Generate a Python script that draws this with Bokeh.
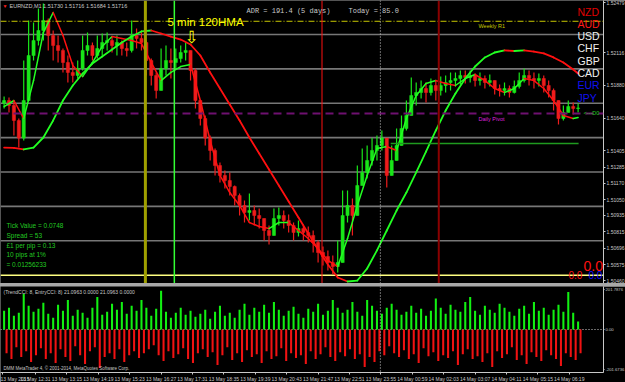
from bokeh.plotting import figure
from bokeh.models import Range1d, FixedTicker, PrintfTickFormatter, Label, Span
from bokeh.layouts import column
from bokeh.embed import file_html
from bokeh.resources import INLINE

# ---------------- data (EURNZD M1, resampled to 10-minute bars) ----------------
open0 = 1.51750
close = [
1.51770, 1.51734, 1.51625, 1.51497, 1.51770, 1.52097, 1.52206, 1.52279, 1.52352, 1.52243,
1.52170, 1.52134, 1.52046, 1.51974, 1.51952, 1.52003, 1.52134, 1.52170, 1.52097, 1.52148,
1.52192, 1.52206, 1.52170, 1.52192, 1.52148, 1.52134, 1.52243, 1.52221, 1.52192, 1.52061,
1.51952, 1.51843, 1.52003, 1.52061, 1.52046, 1.52075, 1.52119, 1.52134, 1.51988, 1.51770,
1.51639, 1.51497, 1.51407, 1.51297, 1.51225, 1.51188, 1.51145, 1.51079, 1.51007, 1.50956,
1.50970, 1.50934, 1.50912, 1.50825, 1.50789, 1.50912, 1.50934, 1.50898, 1.50861, 1.50810,
1.50839, 1.50810, 1.50789, 1.50738, 1.50665, 1.50636, 1.50592, 1.50563, 1.50592, 1.50934,
1.51007, 1.50934, 1.51152, 1.51247, 1.51334, 1.51407, 1.51443, 1.51497, 1.51225, 1.51334,
1.51443, 1.51566, 1.51661, 1.51806, 1.51828, 1.51857, 1.51828, 1.51879, 1.51843, 1.51879,
1.51901, 1.51915, 1.51930, 1.51952, 1.51937, 1.51952, 1.51915, 1.51930, 1.51901, 1.51915,
1.51857, 1.51843, 1.51857, 1.51828, 1.51872, 1.51915, 1.51952, 1.51930, 1.51915, 1.51930,
1.51879, 1.51843, 1.51770, 1.51639, 1.51683, 1.51726, 1.51712, 1.51716]
high = [
1.51799, 1.51792, 1.51770, 1.51639, 1.52061, 1.52352, 1.52337, 1.52439, 1.52475, 1.52366,
1.52279, 1.52243, 1.52148, 1.52097, 1.52046, 1.52061, 1.52243, 1.52264, 1.52192, 1.52243,
1.52257, 1.52264, 1.52235, 1.52243, 1.52206, 1.52192, 1.52352, 1.52293, 1.52279, 1.52206,
1.52075, 1.51974, 1.52148, 1.52170, 1.52148, 1.52148, 1.52170, 1.52192, 1.52134, 1.52003,
1.51770, 1.51661, 1.51515, 1.51421, 1.51319, 1.51261, 1.51247, 1.51152, 1.51094, 1.51043,
1.51094, 1.51007, 1.50985, 1.50898, 1.50861, 1.50985, 1.50992, 1.50970, 1.50941, 1.50883,
1.50898, 1.50869, 1.50854, 1.50825, 1.50752, 1.50709, 1.50680, 1.50644, 1.50752, 1.51116,
1.51116, 1.51058, 1.51297, 1.51421, 1.51443, 1.51497, 1.51515, 1.51552, 1.51479, 1.51443,
1.51566, 1.51661, 1.51770, 1.51937, 1.51901, 1.51915, 1.51901, 1.51930, 1.51915, 1.51944,
1.51952, 1.51974, 1.51974, 1.51988, 1.51988, 1.51988, 1.51966, 1.51974, 1.51952, 1.51959,
1.51915, 1.51886, 1.51901, 1.51879, 1.51915, 1.51974, 1.52003, 1.51988, 1.51974, 1.51966,
1.51952, 1.51915, 1.51857, 1.51770, 1.51734, 1.51770, 1.51756, 1.51748]
low = [
1.51712, 1.51683, 1.51515, 1.51428, 1.51479, 1.51952, 1.52061, 1.52170, 1.52206, 1.52134,
1.52061, 1.52046, 1.51974, 1.51901, 1.51901, 1.51930, 1.51988, 1.52097, 1.52061, 1.52075,
1.52097, 1.52134, 1.52119, 1.52097, 1.52097, 1.52090, 1.52119, 1.52148, 1.52134, 1.51952,
1.51879, 1.51785, 1.51915, 1.51952, 1.51930, 1.52003, 1.52046, 1.52061, 1.51915, 1.51712,
1.51588, 1.51443, 1.51334, 1.51225, 1.51174, 1.51130, 1.51079, 1.51007, 1.50934, 1.50883,
1.50898, 1.50861, 1.50839, 1.50752, 1.50723, 1.50839, 1.50861, 1.50839, 1.50810, 1.50752,
1.50781, 1.50752, 1.50738, 1.50665, 1.50592, 1.50570, 1.50534, 1.50505, 1.50520, 1.50680,
1.50883, 1.50789, 1.51043, 1.51152, 1.51203, 1.51297, 1.51334, 1.51407, 1.51138, 1.51225,
1.51334, 1.51479, 1.51552, 1.51697, 1.51734, 1.51785, 1.51756, 1.51806, 1.51770, 1.51806,
1.51828, 1.51843, 1.51872, 1.51886, 1.51894, 1.51901, 1.51872, 1.51879, 1.51857, 1.51872,
1.51814, 1.51799, 1.51806, 1.51792, 1.51821, 1.51857, 1.51901, 1.51879, 1.51857, 1.51872,
1.51828, 1.51792, 1.51697, 1.51596, 1.51625, 1.51683, 1.51668, 1.51683]

# fast HMA and 5 min 120HMA, sampled every 20 minutes (+ last bar)
hma_fast = [
1.51726, 1.51770, 1.51639, 1.51915, 1.52264, 1.52410, 1.52243, 1.52024, 1.51944, 1.52046,
1.52163, 1.52235, 1.52221, 1.52206, 1.52184, 1.52046, 1.51915, 1.51974, 1.52017, 1.52032,
1.51770, 1.51479, 1.51225, 1.51101, 1.51007, 1.50883, 1.50854, 1.50839, 1.50883, 1.50883,
1.50825, 1.50767, 1.50694, 1.50607, 1.50563, 1.50767, 1.51007, 1.51225, 1.51421, 1.51436,
1.51407, 1.51639, 1.51806, 1.51894, 1.51915, 1.51894, 1.51879, 1.51930, 1.51959, 1.51915,
1.51857, 1.51828, 1.51857, 1.51930, 1.51915, 1.51857, 1.51770, 1.51661, 1.51639, 1.51646]
hma_slow = [
1.51428, 1.51425, 1.51414, 1.51428, 1.51501, 1.51625, 1.51770, 1.51879, 1.51966, 1.52039,
1.52090, 1.52141, 1.52192, 1.52235, 1.52272, 1.52279, 1.52257, 1.52235, 1.52213, 1.52177,
1.52097, 1.51974, 1.51857, 1.51741, 1.51625, 1.51501, 1.51385, 1.51268, 1.51152, 1.51036,
1.50919, 1.50803, 1.50687, 1.50578, 1.50483, 1.50454, 1.50461, 1.50549, 1.50680, 1.50825,
1.50970, 1.51101, 1.51247, 1.51399, 1.51552, 1.51697, 1.51821, 1.51930, 1.52017, 1.52083,
1.52119, 1.52134, 1.52130, 1.52134, 1.52126, 1.52112, 1.52083, 1.52046, 1.51995, 1.51966]

# CCI histogram (EntryCCI), positive and negative parts per 10-minute slot
cci_pos = [95, 110, 70, 85, 180, 120, 90, 105, 135, 80,
           60, 125, 95, 150, 70, 100, 85, 60, 110, 165,
           75, 90, 130, 100, 140, 80, 120, 95, 150, 110,
           70, 105, 197, 90, 60, 85, 110, 75, 95, 65,
           80, 100, 55, 90, 120, 70, 85, 60, 100, 130,
           75, 110, 90, 125, 85, 140, 100, 70, 95, 115,
           80, 60, 105, 90, 130, 75, 95, 150, 110, 85,
           100, 140, 90, 70, 150, 120, 95, 80, 110, 130,
           100, 75, 90, 120, 85, 105, 70, 95, 157, 110,
           80, 125, 100, 90, 140, 165, 95, 75, 120, 100,
           85, 130, 110, 90, 70, 105, 120, 80, 140, 95,
           110, 75, 100, 125, 90, 190, 85, 40]
cci_neg = [-120, -150, -90, -140, -110, -165, -130, -95, -150, -120,
           -170, -100, -140, -160, -85, -130, -175, -110, -90, -195,
           -140, -120, -150, -100, -165, -130, -110, -145, -120, -100,
           -80, -130, -160, -110, -145, -125, -95, -150, -170, -120,
           -100, -140, -115, -180, -130, -90, -155, -120, -165, -105,
           -140, -125, -170, -110, -150, -135, -95, -160, -120, -145,
           -130, -175, -110, -150, -125, -90, -140, -160, -115, -135,
           -100, -150, -125, -190, -140, -165, -110, -130, -85, -120,
           -140, -105, -150, -125, -170, -95, -135, -115, -160, -130,
           -145, -110, -180, -125, -100, -150, -135, -165, -120, -190,
           -110, -145, -125, -90, -155, -130, -175, -115, -140, -160,
           -105, -130, -150, -185, -120, -140, -155, -120]

# price levels / objects
round_levels = [1.5225, 1.5200, 1.5175, 1.5150, 1.5125, 1.5100, 1.5075]
yellow_level = 1.5050
weekly_r1 = 1.52346
daily_pivot = 1.51675
green_level = 1.51457
green_level_span = [788, 1171]           # minutes
vlines = {"olive": 288, "lime": 347, "red": 648, "darkred": 886}   # minutes
day_sep = 767                            # minutes

price_ticks = [1.52479, 1.52116, 1.51880, 1.51640, 1.51405, 1.51285, 1.51170,
               1.51050, 1.50935, 1.50815, 1.50696, 1.50575, 1.50460]
cci_ticks = [201.7876, 0.0, -201.6736]
cci_tick_labels = ["201.7876", "0.00", "-201.6736"]
tick_minutes = [-3, 64, 128, 192, 256, 320, 384, 448, 512, 576, 640, 704, 768,
                832, 896, 960, 1024, 1088, 1152]
tick_labels = ["13 May 2015", "13 May 12:31", "13 May 13:15", "13 May 14:19",
               "13 May 15:23", "13 May 16:27", "13 May 17:31", "13 May 18:35",
               "13 May 19:39", "13 May 20:43", "13 May 21:47", "13 May 22:51",
               "13 May 23:55", "14 May 00:59", "14 May 02:03", "14 May 03:07",
               "14 May 04:11", "14 May 05:15", "14 May 06:19"]
currencies = ["NZD", "AUD", "USD", "CHF", "GBP", "CAD", "EUR", "JPY"]
currency_colors = ["#e00000", "#ff1a1a", "#f0f0f0", "#f0f0f0", "#f0f0f0", "#f0f0f0",
                   "#1010f0", "#1010f0"]

# ---------------- geometry helpers (pixel -> data for annotations) ----------------
FRAME_W, FRAME_H = 603, 283
PX0, PX_PER_MIN = 3.6, 0.4906
P_TOP = 1.52497
P_PER_PX = 0.0000727
CCI_TOP, CCI_BOT = 218.0, -218.0
IND_H = 86
AX_FONT = "5px"


def tx(px):
    return (px - PX0) / PX_PER_MIN


def py(y):
    return P_TOP - y * P_PER_PX


def cy(y):  # y pixel in window -> CCI value
    return CCI_TOP - (y - (FRAME_H + 3)) * (CCI_TOP - CCI_BOT) / IND_H


UP, DN = "#19e619", "#ee1c1c"
GRAY_TXT = "#c8c8c8"

xr = Range1d(tx(0), tx(FRAME_W))


def style_axis(a, tick_out=2, font=AX_FONT):
    a.major_label_text_font_size = font
    a.major_label_text_color = GRAY_TXT
    a.major_label_text_font = "Liberation Sans"
    a.axis_line_color = GRAY_TXT
    a.major_tick_line_color = GRAY_TXT
    a.major_tick_out = tick_out
    a.major_tick_in = 0
    a.minor_tick_line_color = None
    a.major_label_standoff = 1


# ---------------- main price panel ----------------
p1 = figure(frame_width=FRAME_W, frame_height=FRAME_H, x_range=xr,
            y_range=Range1d(py(FRAME_H), P_TOP), output_backend="svg",
            toolbar_location=None, x_axis_location=None, y_axis_location="right",
            background_fill_color="black", border_fill_color="black",
            min_border_left=0, min_border_right=0, min_border_top=0, min_border_bottom=0,
            outline_line_color=None)
p1.grid.visible = False
ax = p1.yaxis[0]
ax.ticker = FixedTicker(ticks=price_ticks)
ax.formatter = PrintfTickFormatter(format="%.5f")
style_axis(ax)

for lv in round_levels:
    p1.add_layout(Span(location=lv, dimension="width", line_color="#777777",
                       line_width=1.6, level="underlay"))
p1.add_layout(Span(location=yellow_level, dimension="width", line_color="#ffff80",
                   line_width=1.5, level="underlay"))

# candles
bar_t = [10 * i for i in range(len(close))]
opens = [open0] + close[:-1]
hi = [max(h, o, c) for h, o, c in zip(high, opens, close)]
lo = [min(l, o, c) for l, o, c in zip(low, opens, close)]
cols = [UP if c >= o else DN for o, c in zip(opens, close)]
p1.segment(x0=bar_t, x1=bar_t, y0=lo, y1=hi, line_color=cols, line_width=1.2)
p1.vbar(x=bar_t, width=6.5, top=[max(o, c) for o, c in zip(opens, close)],
        bottom=[min(o, c) for o, c in zip(opens, close)], fill_color=cols, line_color=cols,
        line_width=0.5)

# HMA lines colored by slope
line_t = list(range(0, 1161, 20)) + [1170]


def colored_line(p, ts, vals, width):
    c = ["#22ff22" if b >= a else "#ff1010" for a, b in zip(vals[:-1], vals[1:])]
    p.segment(x0=ts[:-1], y0=vals[:-1], x1=ts[1:], y1=vals[1:], line_color=c,
              line_width=width, line_cap="round")


colored_line(p1, line_t, hma_fast, 1.5)
colored_line(p1, line_t, hma_slow, 1.8)

# horizontal objects
p1.add_layout(Span(location=weekly_r1, dimension="width", line_color="#c8c800",
                   line_width=1, line_dash="6 2 1 2"))
p1.add_layout(Span(location=daily_pivot, dimension="width", line_color="#6e1070",
                   line_width=2, line_dash="8 5"))
p1.segment(x0=[green_level_span[0]], x1=[green_level_span[1]], y0=[green_level],
           y1=[green_level], line_color="#1f9a1f", line_width=1.5)

# vertical lines
p1.add_layout(Span(location=vlines["olive"], dimension="height", line_color="#a0a000", line_width=3))
p1.add_layout(Span(location=vlines["lime"], dimension="height", line_color="#33ff33", line_width=1.5))
p1.add_layout(Span(location=vlines["red"], dimension="height", line_color="#ff1010", line_width=1))
p1.add_layout(Span(location=vlines["darkred"], dimension="height", line_color="#8b0000", line_width=2))
p1.add_layout(Span(location=day_sep, dimension="height", line_color="#d0d0d0", line_width=1,
                   line_dash="1 2"))


def txt(p, x, y, text, size, color, font="Liberation Sans", align="left", **kw):
    p.add_layout(Label(x=x, y=y, text=text, text_font_size=f"{size}px", text_color=color,
                       text_font=font, text_align=align, text_baseline="middle", **kw))


txt(p1, tx(2), py(5), "\u25bc", 5, "#ff2020")
txt(p1, tx(9), py(5), "EURNZD,M1  1.51730 1.51716 1.51684 1.51716", 5.5, GRAY_TXT)
txt(p1, tx(246), py(10), "ADR = 191.4  (5 days)", 7, GRAY_TXT, font="Liberation Mono")
txt(p1, tx(348), py(10), "Today = 85.0", 7, GRAY_TXT, font="Liberation Mono")
txt(p1, tx(167), py(21), "5 min 120HMA", 11.5, "#ffff00")
txt(p1, tx(184), py(36), "\u21e9", 17, "#ffff00", font="DejaVu Sans")
txt(p1, tx(478), py(25), "Weekly R1", 5.5, "#c8c800")
txt(p1, tx(478), py(118), "Daily Pivot", 5.5, "#dd22dd")
for i, (cname, ccol) in enumerate(zip(currencies, currency_colors)):
    txt(p1, tx(577), py(11 + 12.3 * i), cname, 10.5, ccol)
txt(p1, tx(583), py(112), "<---D0", 5.5, "#22cc22")
txt(p1, tx(583), py(265), "0.0", 14, "#ff1010")
txt(p1, tx(568), py(274), "0.0", 10, "#ff1010")
txt(p1, tx(588), py(274), "0.0", 10, "#1010ff")
for i, line in enumerate(["Tick Value = 0.0748", "Spread = 53", "\u00a31 per pip = 0.13",
                          "10 pips at 1%", "= 0.01256233"]):
    txt(p1, tx(6), py(225 + 9.8 * i), line, 6.5, "#22c822")

# boxed price labels on the axis
boxes = [(1.52346, "#ffff00", "#000000"), (1.52250, "#8c8c8c", "#1a1a1a"),
         (1.52000, "#8c8c8c", "#1a1a1a"), (1.51750, "#8c8c8c", "#1a1a1a"),
         (1.51716, "#ffffff", "#000000"), (1.51675, "#ff00ff", "#ffffff"),
         (1.51500, "#8c8c8c", "#1a1a1a"), (1.51250, "#8c8c8c", "#1a1a1a"),
         (1.51000, "#8c8c8c", "#1a1a1a"), (1.50750, "#8c8c8c", "#1a1a1a"),
         (1.50500, "#8c8c8c", "#1a1a1a")]
for lv, bg, fg in boxes:
    p1.add_layout(Label(x=tx(FRAME_W), y=lv, x_offset=2, text=f"{lv:.5f}",
                        text_font_size=AX_FONT, text_color=fg, text_font="Liberation Sans",
                        text_baseline="middle", background_fill_color=bg, padding=1))

# ---------------- indicator panel ----------------
p2 = figure(frame_width=FRAME_W, frame_height=IND_H, x_range=xr,
            y_range=Range1d(CCI_BOT, CCI_TOP), output_backend="svg",
            toolbar_location=None, y_axis_location="right",
            background_fill_color="black", border_fill_color="black",
            min_border_left=0, min_border_right=0, min_border_top=0, min_border_bottom=0,
            outline_line_color=None)
p2.grid.visible = False
p2.add_layout(Span(location=0, dimension="width", line_color="#d0d0d0", line_width=1,
                   line_dash="1 2", level="underlay"))
p2.vbar(x=bar_t, width=4.2, top=cci_pos, bottom=0, fill_color="#12f012", line_color=None)
p2.vbar(x=[t + 5 for t in bar_t], width=4.2, top=0, bottom=cci_neg, fill_color="#f01212",
        line_color=None)
p2.add_layout(Span(location=day_sep, dimension="height", line_color="#d0d0d0", line_width=1,
                   line_dash="1 2"))

ay = p2.yaxis[0]
ay.ticker = FixedTicker(ticks=cci_ticks)
ay.major_label_overrides = dict(zip(cci_ticks, cci_tick_labels))
style_axis(ay, tick_out=1, font="4.2px")

axx = p2.xaxis[0]
axx.ticker = FixedTicker(ticks=tick_minutes)
axx.major_label_overrides = {t: s for t, s in zip(tick_minutes, tick_labels)}
axx.major_label_text_align = "left"
style_axis(axx)

txt(p2, tx(3), cy(291), "(TrendCCI: 8, EntryCCI: 8)  21.0963 0.0000 21.0963 0.0000", 5, GRAY_TXT)
txt(p2, tx(3), cy(368), "DMM MetaTrader 4, \u00a9 2001-2014, MetaQuotes Software Corp.", 4.5, GRAY_TXT)

layout = column(p1, p2, spacing=3, styles={"background-color": "#a8a8a8"})
open("out.html", "w", encoding="utf-8").write(file_html(layout, INLINE))
